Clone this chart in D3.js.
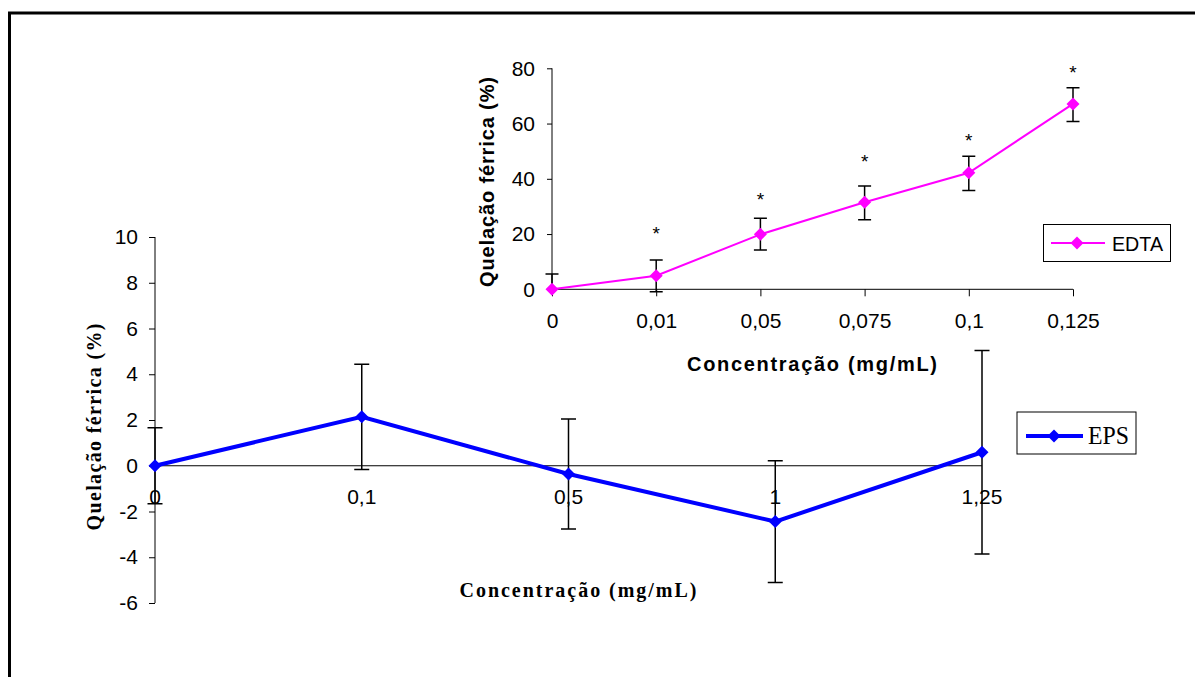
<!DOCTYPE html>
<html>
<head>
<meta charset="utf-8">
<script src="https://cdn.jsdelivr.net/npm/d3@7"></script>
<style>
  body { margin: 0; background: #fff; }
  svg { display: block; }
</style>
</head>
<body>
<svg id="chart" width="1195" height="677"></svg>
<script>
// EPS (main chart)
var epsCategories = ["0", "0,1", "0,5", "1", "1,25"];
var epsValues = [0, 2.14, -0.36, -2.44, 0.59];
var epsErrors = [1.66, 2.3, 2.4, 2.66, 4.45];
var epsTicks = [-6, -4, -2, 0, 2, 4, 6, 8, 10];

// EDTA (inset chart)
var edtaCategories = ["0", "0,01", "0,05", "0,075", "0,1", "0,125"];
var edtaValues = [0, 4.9, 19.9, 31.5, 42.2, 67.1];
var edtaErrPlus = [5.5, 5.7, 5.8, 5.9, 6.0, 5.9];
var edtaErrMinus = [0, 5.8, 5.7, 6.3, 6.4, 6.4];
var edtaStars = [null, 21.5, 33.8, 47.5, 55.2, 79.9];
var edtaTicks = [0, 20, 40, 60, 80];

var svg = d3.select("#chart");
var sans = "'Liberation Sans', Arial, sans-serif",
    serif = "'Liberation Serif', 'Times New Roman', serif";

// hyphen minus like the original, not the unicode minus
var fmt = function(d) { return String(d); };

// outer frame (only top and left edges show)
svg.append("path")
    .attr("d", "M9.5,677 V13 H1195")
    .attr("fill", "none")
    .attr("stroke", "#000")
    .attr("stroke-width", 3);

function diamond(g, x, y, r, color) {
    g.append("path")
        .attr("d", "M" + x + "," + (y - r) + " L" + (x + r) + "," + y + " L" + x + "," + (y + r) + " L" + (x - r) + "," + y + "Z")
        .attr("fill", color);
}

// ---------- main chart: EPS ----------
var x1 = d3.scalePoint().domain(epsCategories).range([155, 982]).padding(0);
var y1 = d3.scaleLinear().domain([-6, 10]).range([603, 237]);

var g1 = svg.append("g");

g1.append("g")
    .attr("transform", "translate(155,0)")
    .call(d3.axisLeft(y1).tickValues(epsTicks).tickSize(6).tickPadding(11).tickFormat(fmt))
    .call(function(a) {
        a.select(".domain").attr("d", "M0," + y1(-6) + "V" + y1(10));
        a.selectAll("text").attr("font-family", sans).attr("font-size", 21).attr("fill", "#000");
    });

// horizontal axis line at zero
g1.append("line")
    .attr("x1", x1(epsCategories[0])).attr("x2", x1(epsCategories[epsCategories.length - 1]))
    .attr("y1", y1(0)).attr("y2", y1(0))
    .attr("stroke", "#000").attr("stroke-width", 1);

g1.selectAll(".xlab")
    .data(epsCategories)
    .enter().append("text")
    .attr("x", function(d) { return x1(d); })
    .attr("y", y1(0) + 38)
    .attr("text-anchor", "middle")
    .attr("font-family", sans).attr("font-size", 21)
    .text(function(d) { return d; });

g1.append("path")
    .datum(epsValues)
    .attr("d", d3.line().x(function(d, i) { return x1(epsCategories[i]); }).y(function(d) { return y1(d); }))
    .attr("fill", "none")
    .attr("stroke", "#0000ff")
    .attr("stroke-width", 4);

epsValues.forEach(function(v, i) {
    var cx = x1(epsCategories[i]),
        top = y1(v + epsErrors[i]),
        bot = y1(v - epsErrors[i]);
    g1.append("path")
        .attr("d", "M" + cx + "," + top + "V" + bot + "M" + (cx - 7.5) + "," + top + "H" + (cx + 7.5) + "M" + (cx - 7.5) + "," + bot + "H" + (cx + 7.5))
        .attr("fill", "none").attr("stroke", "#000").attr("stroke-width", 1.5);
});
epsValues.forEach(function(v, i) {
    diamond(g1, x1(epsCategories[i]), y1(v), 6.5, "#0000ff");
});

g1.append("text")
    .attr("transform", "translate(101,427) rotate(-90)")
    .attr("text-anchor", "middle")
    .attr("textLength", 207).attr("lengthAdjust", "spacing")
    .attr("font-family", serif).attr("font-size", 20).attr("font-weight", "bold")
    .text("Quelação férrica (%)");

g1.append("text")
    .attr("x", 578).attr("y", 597)
    .attr("text-anchor", "middle")
    .attr("textLength", 237).attr("lengthAdjust", "spacing")
    .attr("font-family", serif).attr("font-size", 20).attr("font-weight", "bold")
    .text("Concentração (mg/mL)");

// EPS legend
var lg1 = svg.append("g");
lg1.append("rect").attr("x", 1017).attr("y", 412).attr("width", 119).attr("height", 42)
    .attr("fill", "#fff").attr("stroke", "#000").attr("stroke-width", 1);
lg1.append("line").attr("x1", 1026).attr("x2", 1083).attr("y1", 436).attr("y2", 436)
    .attr("stroke", "#0000ff").attr("stroke-width", 4);
diamond(lg1, 1054, 436, 6.5, "#0000ff");
lg1.append("text").attr("x", 1088).attr("y", 444)
    .attr("textLength", 41).attr("lengthAdjust", "spacingAndGlyphs")
    .attr("font-family", serif).attr("font-size", 25)
    .text("EPS");

// ---------- inset chart: EDTA ----------
var x2 = d3.scalePoint().domain(edtaCategories).range([552, 1073]).padding(0);
var y2 = d3.scaleLinear().domain([0, 80]).range([289.3, 68.3]);

var g2 = svg.append("g");

g2.append("g")
    .attr("transform", "translate(552,0)")
    .call(d3.axisLeft(y2).tickValues(edtaTicks).tickSize(5).tickPadding(12))
    .call(function(a) {
        a.select(".domain").attr("d", "M0," + y2(0) + "V" + y2(80));
        a.selectAll("text").attr("font-family", sans).attr("font-size", 21).attr("fill", "#000");
    });

g2.append("g")
    .attr("transform", "translate(0," + y2(0) + ")")
    .call(d3.axisBottom(x2).tickSize(7).tickPadding(17))
    .call(function(a) {
        a.select(".domain").attr("d", "M" + x2(edtaCategories[0]) + ",0H" + x2(edtaCategories[edtaCategories.length - 1]));
        a.selectAll("text").attr("font-family", sans).attr("font-size", 21).attr("fill", "#000");
    });

g2.append("path")
    .datum(edtaValues)
    .attr("d", d3.line().x(function(d, i) { return x2(edtaCategories[i]); }).y(function(d) { return y2(d); }))
    .attr("fill", "none")
    .attr("stroke", "#ff00ff")
    .attr("stroke-width", 2);

edtaValues.forEach(function(v, i) {
    var cx = x2(edtaCategories[i]),
        top = y2(v + edtaErrPlus[i]),
        bot = y2(v - edtaErrMinus[i]);
    var d = "M" + cx + "," + top + "V" + bot + "M" + (cx - 6.5) + "," + top + "H" + (cx + 6.5);
    if (edtaErrMinus[i] > 0) d += "M" + (cx - 6.5) + "," + bot + "H" + (cx + 6.5);
    g2.append("path").attr("d", d)
        .attr("fill", "none").attr("stroke", "#000").attr("stroke-width", 1.5);
});
edtaValues.forEach(function(v, i) {
    diamond(g2, x2(edtaCategories[i]), y2(v), 6.5, "#ff00ff");
});

edtaStars.forEach(function(s, i) {
    if (s === null) return;
    g2.append("text")
        .attr("x", x2(edtaCategories[i]))
        .attr("y", y2(s) + 10)
        .attr("text-anchor", "middle")
        .attr("font-family", sans).attr("font-size", 19)
        .text("*");
});

g2.append("text")
    .attr("transform", "translate(494,182) rotate(-90)")
    .attr("text-anchor", "middle")
    .attr("textLength", 210).attr("lengthAdjust", "spacing")
    .attr("font-family", sans).attr("font-size", 20).attr("font-weight", "bold")
    .text("Quelação férrica (%)");

g2.append("text")
    .attr("x", 812).attr("y", 371)
    .attr("text-anchor", "middle")
    .attr("textLength", 250).attr("lengthAdjust", "spacing")
    .attr("font-family", sans).attr("font-size", 20).attr("font-weight", "bold")
    .text("Concentração (mg/mL)");

// EDTA legend
var lg2 = svg.append("g");
lg2.append("rect").attr("x", 1043.5).attr("y", 224.5).attr("width", 127).attr("height", 37)
    .attr("fill", "#fff").attr("stroke", "#000").attr("stroke-width", 1);
lg2.append("line").attr("x1", 1051).attr("x2", 1105).attr("y1", 243).attr("y2", 243)
    .attr("stroke", "#ff00ff").attr("stroke-width", 2);
diamond(lg2, 1077, 243, 6.5, "#ff00ff");
lg2.append("text").attr("x", 1112).attr("y", 251)
    .attr("textLength", 51).attr("lengthAdjust", "spacingAndGlyphs")
    .attr("font-family", sans).attr("font-size", 21)
    .text("EDTA");
</script>
</body>
</html>
